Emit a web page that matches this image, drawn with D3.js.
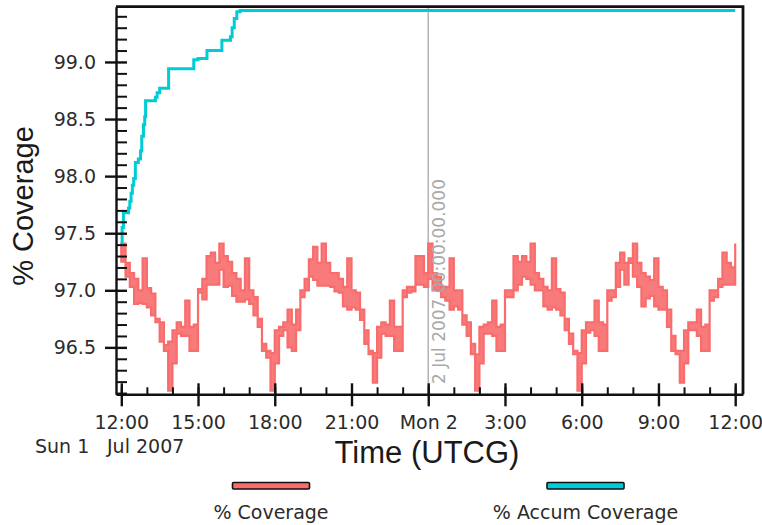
<!DOCTYPE html>
<html>
<head>
<meta charset="utf-8">
<script src="https://d3js.org/d3.v7.min.js"></script>
<style>
  body { margin: 0; background: #fff; }
  svg { display: block; }
</style>
</head>
<body>
<div class="chart"></div>
<script>
// % Coverage, read per 10 minute slot from 12:00 Sun 1 Jul 2007 (high / low of each slot)
var covHigh = [97.41,97.24,97.15,97.10,97.00,97.28,97.02,96.97,96.75,96.72,96.52,96.55,96.65,96.72,96.68,96.91,96.68,96.70,
  97.01,97.10,97.30,97.33,97.24,97.41,97.30,97.25,97.15,97.10,97.00,97.28,97.00,96.94,96.75,96.53,96.47,96.45,96.65,96.68,
  96.72,96.83,96.70,96.83,97.00,97.10,97.27,97.38,97.24,97.41,97.24,97.15,97.15,97.10,97.03,97.28,97.00,96.98,96.83,96.65,
  96.47,96.45,96.68,96.72,96.70,96.91,96.68,96.68,97.00,97.03,97.03,97.30,97.30,97.15,97.41,97.15,97.12,97.03,97.03,97.28,
  97.00,97.00,96.78,96.72,96.53,96.44,96.68,96.70,96.72,96.91,96.68,96.70,97.00,97.00,97.30,97.25,97.30,97.25,97.41,97.15,
  97.10,97.03,97.00,97.28,97.01,96.98,96.75,96.62,96.47,96.45,96.65,96.72,96.72,96.91,96.72,96.70,97.00,97.00,97.24,97.33,
  97.24,97.28,97.41,97.24,97.15,97.12,97.09,97.28,97.03,97.00,96.83,96.60,96.47,96.47,96.65,96.72,96.72,96.83,96.68,96.70,
  97.00,97.00,97.10,97.33,97.24,97.20,97.41];
var covLow = [97.25,97.12,97.03,96.88,96.89,96.88,96.85,96.78,96.72,96.55,96.47,96.12,96.36,96.62,96.60,96.60,96.47,96.47,
  96.98,96.92,97.05,97.05,97.05,97.18,97.03,97.04,96.95,96.90,96.90,96.92,96.88,96.78,96.68,96.47,96.41,96.12,96.36,96.60,
  96.65,96.50,96.47,96.65,96.94,97.00,97.12,97.09,97.04,97.04,97.04,97.03,96.99,96.98,96.86,96.83,96.85,96.83,96.74,96.53,
  96.44,96.19,96.41,96.62,96.60,96.60,96.47,96.47,96.94,96.98,96.99,97.05,97.05,97.03,97.10,97.00,97.00,96.94,96.91,96.83,
  96.86,96.83,96.70,96.60,96.44,96.12,96.36,96.62,96.62,96.60,96.47,96.47,96.94,96.94,97.00,97.05,97.12,97.10,97.05,97.00,
  97.00,96.86,96.83,96.85,96.83,96.78,96.65,96.53,96.44,96.12,96.36,96.63,96.65,96.60,96.47,96.47,96.91,96.94,97.03,97.18,
  97.05,97.24,97.12,97.03,96.86,96.93,96.95,96.86,96.83,96.83,96.68,96.47,96.44,96.19,96.36,96.65,96.65,96.60,96.47,96.47,
  96.91,96.94,97.03,97.05,97.05,97.05,97.25];
var slotMinutes = 10;

// % Accum Coverage steps (minutes after 12:00, value)
var accumMin = [0, 2, 5, 17, 20, 23, 26, 29, 33, 40, 45, 48, 52, 55, 57, 80, 84, 90, 111, 170, 180, 201, 236, 256, 260, 265, 271, 279, 1440];
var accumVal = [97.41, 97.55, 97.68, 97.72, 97.78, 97.85, 97.92, 97.98, 98.12, 98.15, 98.22, 98.35, 98.45, 98.52, 98.66,
  98.69, 98.73, 98.77, 98.94, 99.02, 99.03, 99.10, 99.19, 99.22, 99.30, 99.38, 99.44, 99.45, 99.45];

var xTickHours = [0, 3, 6, 9, 12, 15, 18, 21, 24];
var xTickLabels = ["12:00", "15:00", "18:00", "21:00", "Mon 2", "3:00", "6:00", "9:00", "12:00"];
var yTickValues = [96.5, 97.0, 97.5, 98.0, 98.5, 99.0];
var yMinorValues = [96.1,96.2,96.3,96.4,96.6,96.7,96.8,96.9,97.1,97.2,97.3,97.4,97.6,97.7,97.8,97.9,
  98.1,98.2,98.3,98.4,98.6,98.7,98.8,98.9,99.1,99.2,99.3,99.4];
var seriesNames = ["% Coverage", "% Accum Coverage"];
var seriesColors = ["#f86c6c", "#00ccd6"];

var w = 762, h = 525;
var plotLeft = 116, plotRight = 743, plotTop = 6.7, plotBottom = 394.3;
var t0 = Date.UTC(2007, 6, 1, 12, 0);
function atMin(m) { return new Date(t0 + m * 60000); }

var svg = d3.select(".chart").append("svg")
  .attr("width", w)
  .attr("height", h);

var x = d3.scaleUtc()
  .domain([atMin(-12.4), atMin(1458.3)])
  .range([plotLeft, plotRight]);
var y = d3.scaleLinear()
  .domain([96.089, 99.484])
  .range([plotBottom, plotTop]);

var tickFont = "DejaVu Sans, Verdana, sans-serif";

// epoch marker at Mon 2 00:00
var epochX = x(atMin(720));
svg.append("line")
  .attr("x1", epochX).attr("x2", epochX)
  .attr("y1", plotTop).attr("y2", plotBottom)
  .attr("stroke", "#b4b4b4")
  .attr("stroke-width", 1.5);

// % Coverage as a stepped band between low and high of each slot
var covData = covHigh.map(function(v, i) { return { t: atMin(i * slotMinutes), hi: v, lo: covLow[i] }; });
var band = d3.area()
  .curve(d3.curveStepAfter)
  .x(function(d) { return x(d.t); })
  .y0(function(d) { return y(d.lo); })
  .y1(function(d) { return y(d.hi); });
svg.append("path")
  .datum(covData)
  .attr("d", band)
  .attr("fill", seriesColors[0])
  .attr("fill-opacity", 0.9)
  .attr("stroke", seriesColors[0])
  .attr("stroke-width", 2.2)
  .attr("stroke-linejoin", "miter");

var accumData = accumMin.map(function(m, i) { return { t: atMin(m), v: accumVal[i] }; });
var line = d3.line()
  .curve(d3.curveStepAfter)
  .x(function(d) { return x(d.t); })
  .y(function(d) { return y(d.v); });
svg.append("path")
  .datum(accumData)
  .attr("d", line)
  .attr("fill", "none")
  .attr("stroke", seriesColors[1])
  .attr("stroke-width", 3);

svg.append("text")
  .attr("transform", "translate(" + (epochX + 16.5) + ",384) rotate(-90)")
  .attr("font-family", tickFont)
  .attr("font-size", 17)
  .attr("fill", "#a9a9a9")
  .text("2 Jul 2007 00:00:00.000");

// frame
svg.append("path")
  .attr("d", "M" + plotLeft + "," + plotTop + "H" + plotRight + "V" + plotBottom)
  .attr("fill", "none")
  .attr("stroke", "#111")
  .attr("stroke-width", 2.8);

// x axis
var xMinor = svg.append("g")
  .attr("transform", "translate(0," + plotBottom + ")")
  .call(d3.axisBottom(x)
    .tickValues(d3.range(0, 25).map(function(hr) { return atMin(hr * 60); }))
    .tickSize(-7).tickFormat(""));
xMinor.select(".domain").remove();

var xAxis = svg.append("g")
  .attr("transform", "translate(0," + plotBottom + ")")
  .call(d3.axisBottom(x)
    .tickValues(xTickHours.map(function(hr) { return atMin(hr * 60); }))
    .tickSize(12)
    .tickSizeOuter(0)
    .tickFormat(function(d, i) { return xTickLabels[i]; }));
xAxis.selectAll(".tick line").attr("y1", -11);
xAxis.selectAll(".tick text")
  .attr("y", 34.5).attr("dy", null)
  .attr("font-family", tickFont)
  .attr("font-size", 19)
  .attr("fill", "#2b2b2b");

// y axis
var yMinor = svg.append("g")
  .attr("transform", "translate(" + plotLeft + ",0)")
  .call(d3.axisLeft(y).tickValues(yMinorValues).tickSize(-11).tickFormat(""));
yMinor.select(".domain").remove();

var yAxis = svg.append("g")
  .attr("transform", "translate(" + plotLeft + ",0)")
  .call(d3.axisLeft(y)
    .tickValues(yTickValues)
    .tickSize(11)
    .tickSizeOuter(0)
    .tickFormat(d3.format(".1f")));
yAxis.selectAll(".tick line").attr("x1", 11);
yAxis.selectAll(".tick text")
  .attr("x", -20)
  .attr("font-family", tickFont)
  .attr("font-size", 19)
  .attr("fill", "#2b2b2b");

svg.selectAll(".domain, .tick line")
  .attr("stroke", "#111")
  .attr("stroke-width", 2.4);
xMinor.selectAll(".tick line").attr("stroke-width", 2);
yMinor.selectAll(".tick line").attr("stroke-width", 2);

// titles
svg.append("text")
  .attr("x", 427).attr("y", 463)
  .attr("text-anchor", "middle")
  .attr("font-family", "Liberation Sans, Arial, sans-serif")
  .attr("font-size", 31)
  .attr("fill", "#1a1a1a")
  .text("Time (UTCG)");

svg.append("text")
  .attr("transform", "translate(33,206) rotate(-90)")
  .attr("text-anchor", "middle")
  .attr("font-family", "Liberation Sans, Arial, sans-serif")
  .attr("font-size", 29)
  .attr("fill", "#1a1a1a")
  .text("% Coverage");

svg.append("text")
  .attr("x", 35).attr("y", 453)
  .attr("font-family", tickFont)
  .attr("font-size", 19)
  .attr("fill", "#2b2b2b")
  .text("Sun 1");
svg.append("text")
  .attr("x", 107).attr("y", 453)
  .attr("font-family", tickFont)
  .attr("font-size", 19)
  .attr("fill", "#2b2b2b")
  .text("Jul 2007");

// legend
var legendX = [271, 585.5];
var legend = svg.append("g").selectAll("g")
  .data(seriesNames)
  .enter()
  .append("g")
  .attr("transform", function(d, i) { return "translate(" + legendX[i] + ",0)"; });
legend.append("rect")
  .attr("x", -38.5).attr("y", 482.5)
  .attr("width", 77).attr("height", 6.5)
  .attr("rx", 1)
  .attr("fill", function(d, i) { return seriesColors[i]; })
  .attr("stroke", "#111")
  .attr("stroke-width", 1.6);
legend.append("text")
  .attr("y", 519)
  .attr("text-anchor", "middle")
  .attr("font-family", tickFont)
  .attr("font-size", 19)
  .attr("fill", "#2b2b2b")
  .text(function(d) { return d; });
</script>
</body>
</html>
